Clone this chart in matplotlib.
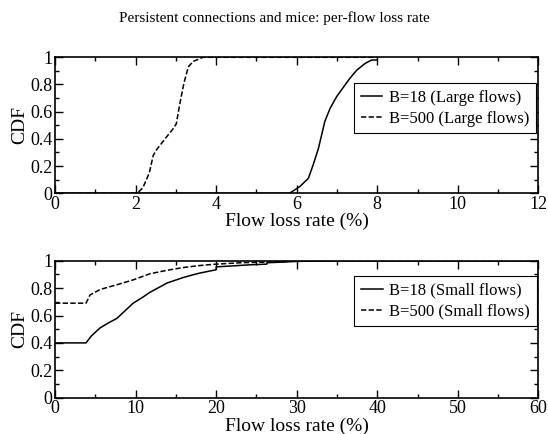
import numpy as np
import matplotlib.pyplot as plt
from matplotlib.ticker import MultipleLocator

plt.rcParams['font.family'] = ['Liberation Serif', 'DejaVu Serif']

# Large flows (top panel)
large_b18_x = [0, 5.82, 6.08, 6.29, 6.41, 6.54, 6.62, 6.70, 6.83, 6.99, 7.16, 7.32, 7.49, 7.70, 7.86, 8.0]
large_b18_y = [0, 0.0, 0.05, 0.11, 0.21, 0.33, 0.43, 0.53, 0.625, 0.71, 0.78, 0.845, 0.905, 0.955, 0.98, 0.98]
large_b500_x = [0, 2.04, 2.18, 2.34, 2.44, 2.52, 2.73, 2.92, 3.01, 3.10, 3.20, 3.31, 3.43, 3.60, 3.67, 8.0]
large_b500_y = [0, 0.0, 0.04, 0.15, 0.28, 0.32, 0.40, 0.47, 0.51, 0.66, 0.81, 0.93, 0.97, 0.99, 1.0, 1.0]

# Small flows (bottom panel)
small_b18_x = [0, 3.85, 4.5, 5.6, 6.6, 7.7, 8.7, 9.7, 10.8, 11.8, 12.9, 13.9, 14.9, 15.9,
               17, 18, 20, 20, 22, 24.2, 26.3, 26.3, 28.3, 30, 35, 60]
small_b18_y = [0.4, 0.4, 0.45, 0.51, 0.545, 0.58, 0.635, 0.69, 0.73, 0.77, 0.805, 0.837, 0.857, 0.877,
               0.895, 0.91, 0.934, 0.955, 0.962, 0.97, 0.975, 0.985, 0.99, 0.995, 1.0, 1.0]
small_b500_x = [0, 3.85, 4.35, 5.6, 7.7, 9.7, 11.8, 13.9, 15.9, 18, 20, 23, 26.3, 30, 35, 60]
small_b500_y = [0.69, 0.69, 0.75, 0.79, 0.825, 0.86, 0.905, 0.93, 0.95, 0.965, 0.975, 0.985, 0.99, 0.997, 1.0, 1.0]

fig = plt.figure(figsize=(5.48, 4.34), dpi=100)
ax1 = fig.add_axes([0.1004, 0.5546, 0.882, 0.3134])
ax2 = fig.add_axes([0.1004, 0.0836, 0.882, 0.3157])

fig.text(0.5, 0.958, 'Persistent connections and mice: per-flow loss rate',
         ha='center', va='center', fontsize=11)

dash = (0, (3.5, 1.5))
ax1.plot(large_b18_x, large_b18_y, color='black', lw=1.1, label='B=18 (Large flows)')
ax1.plot(large_b500_x, large_b500_y, color='black', lw=1.1, ls=dash, label='B=500 (Large flows)')
ax1.set_xlim(0, 12)
ax1.xaxis.set_major_locator(MultipleLocator(2))
ax1.xaxis.set_minor_locator(MultipleLocator(1))

ax2.plot(small_b18_x, small_b18_y, color='black', lw=1.1, label='B=18 (Small flows)')
ax2.plot(small_b500_x, small_b500_y, color='black', lw=1.1, ls=dash, label='B=500 (Small flows)')
ax2.set_xlim(0, 60)
ax2.xaxis.set_major_locator(MultipleLocator(10))
ax2.xaxis.set_minor_locator(MultipleLocator(5))

for ax, anchor in ((ax1, (0.995, 0.811)), (ax2, (0.997, 0.888))):
    ax.set_ylim(0, 1)
    ax.yaxis.set_major_locator(MultipleLocator(0.2))
    ax.yaxis.set_minor_locator(MultipleLocator(0.1))
    ax.yaxis.set_major_formatter(plt.FuncFormatter(lambda v, p: '%g' % round(v, 1)))
    ax.tick_params(which='both', direction='in', top=True, right=True, labelsize=13, width=1, pad=2)
    ax.tick_params(which='major', length=6)
    ax.tick_params(which='minor', length=3)
    ax.set_xlabel('Flow loss rate (%)', fontsize=14, labelpad=0)
    ax.set_ylabel('CDF', fontsize=14, labelpad=1)
    for s in ax.spines.values():
        s.set_linewidth(1.2)
    leg = ax.legend(loc='upper right', bbox_to_anchor=anchor, borderaxespad=0, fontsize=12,
                    fancybox=False, framealpha=1, edgecolor='black', handlelength=1.3,
                    handletextpad=0.4, borderpad=0.4, labelspacing=0.3)
    leg.get_frame().set_linewidth(0.8)

fig.savefig('out.png', dpi=100)
